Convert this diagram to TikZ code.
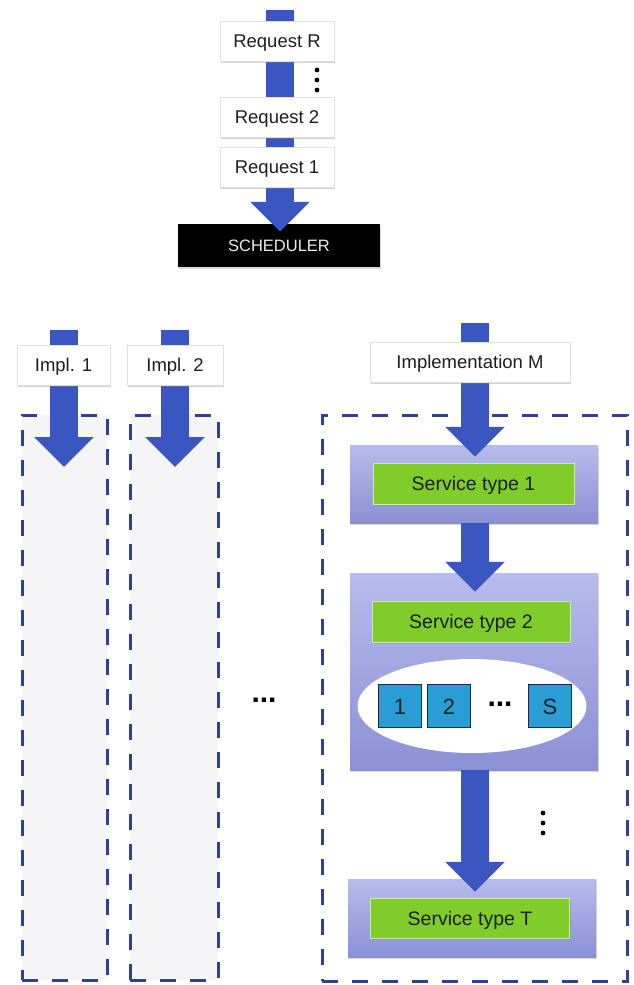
\documentclass[tikz,border=0pt]{standalone}
\usepackage{fontspec}
\setmainfont{Liberation Sans}
\usetikzlibrary{arrows.meta,shadows,shapes.geometric}

\definecolor{arrowblue}{RGB}{58,86,192}
\definecolor{frameblue}{RGB}{48,64,146}
\definecolor{lavtop}{RGB}{184,187,236}
\definecolor{lavbot}{RGB}{138,144,212}
\definecolor{svcgreen}{RGB}{128,204,42}
\definecolor{svcedge}{RGB}{205,236,170}
\definecolor{slotblue}{RGB}{42,156,214}
\definecolor{slotedge}{RGB}{22,40,70}
\definecolor{labeltext}{RGB}{30,30,30}
\definecolor{lanefill}{RGB}{245,245,247}

\tikzset{
  labelbox/.style={draw=black!12, fill=white, text=labeltext,
    font=\fontsize{18.5}{21}\selectfont, inner sep=0pt,
    text height=13pt, text depth=0pt,
    drop shadow={opacity=0.35, shadow xshift=1pt, shadow yshift=-2pt}},
  schedbox/.style={fill=black, text=black!8, inner sep=0pt,
    font=\fontsize{16.5}{19}\selectfont, text height=12pt, text depth=0pt,
    drop shadow={opacity=0.3, shadow xshift=1pt, shadow yshift=-2pt}},
  lane/.style={draw=frameblue, line width=3pt, dash pattern=on 16pt off 14pt,
    inner sep=0pt},
  container/.style={top color=lavtop, bottom color=lavbot, inner sep=0pt,
    drop shadow={opacity=0.3, shadow xshift=1pt, shadow yshift=-2pt}},
  svcbox/.style={fill=svcgreen, draw=svcedge, line width=1pt, inner sep=0pt,
    text=labeltext, font=\fontsize{19.5}{22}\selectfont,
    text height=14pt, text depth=0pt,
    drop shadow={opacity=0.35, shadow xshift=1pt, shadow yshift=-2pt}},
  slot/.style={fill=slotblue, draw=slotedge, line width=1.3pt, inner sep=0pt,
    minimum size=43pt, text=labeltext, font=\fontsize{22}{24}\selectfont,
    text height=16pt, text depth=0pt},
  flow/.style={draw=arrowblue, line width=28pt,
    -{Triangle[width=58pt,length=30pt]}},
  dotdot/.style={font=\fontsize{30}{30}\selectfont\bfseries, inner sep=0pt}
}

\begin{document}
\begin{tikzpicture}[x=1pt,y=-1pt]
\useasboundingbox (0,0) rectangle (634,985);

% ---- request queue feeding the scheduler ----
\node[schedbox, minimum width=202pt, minimum height=43pt] (sch) at (279,245.5) {SCHEDULER};
\coordinate (rtop) at (280,10);
\draw[flow] (rtop) -- ([yshift=-8pt]sch.north -| rtop);
\node[labelbox, minimum width=114pt, minimum height=40pt] (rR) at (277,41) {Request R};
\node[labelbox, minimum width=114pt, minimum height=40pt] (r2) at (277,117) {Request 2};
\node[labelbox, minimum width=114pt, minimum height=40pt] (r1) at (277,167) {Request 1};
\foreach \yy in {70,80,90} \fill (317,\yy) circle (2.4pt);

% ---- implementation lanes ----
\node[lane, fill=lanefill, minimum width=85pt, minimum height=565pt] (lane1) at (64.5,697.5) {};
\node[lane, fill=lanefill, minimum width=88pt, minimum height=565pt] (lane2) at (174,697.5) {};
\node[lane, fill=white, minimum width=305pt, minimum height=566pt] (laneM) at (474.5,698) {};

\coordinate (i1top) at (64,330);
\coordinate (i2top) at (175,330);
\coordinate (iMtop) at (475,323);
\draw[flow] (i1top) -- (64,467);
\draw[flow] (i2top) -- (175,467);

\node[labelbox, minimum width=93pt, minimum height=40pt] (impl1) at (63.5,365) {Impl. 1};
\node[labelbox, minimum width=96pt, minimum height=40pt] (impl2) at (175,365) {Impl. 2};

\node[dotdot] (gap) at (264,700) {...};

% ---- service chain of implementation M ----
\node[container, minimum width=248pt, minimum height=78pt] (c1) at (474,484) {};
\node[container, minimum width=248pt, minimum height=197pt] (c2) at (474,671.5) {};
\node[container, minimum width=248pt, minimum height=78pt] (cT) at (472,918) {};

\draw[flow] (iMtop) -- ([yshift=-12pt]c1.north -| iMtop);
\draw[flow] (c1.south -| iMtop) -- ([yshift=-19pt]c2.north -| iMtop);
\draw[flow] (c2.south -| iMtop) -- ([yshift=-13pt]cT.north -| iMtop);

\node[labelbox, minimum width=200pt, minimum height=40pt] (implM) at (470,362) {Implementation M};

\node[svcbox, minimum width=201pt, minimum height=41pt] (s1) at (473.5,483.5) {Service type 1};
\node[svcbox, minimum width=198pt, minimum height=41pt] (s2) at (471,621.5) {Service type 2};
\node[svcbox, minimum width=199pt, minimum height=40pt] (sT) at (470,918) {Service type T};

\node[ellipse, fill=white, minimum width=229pt, minimum height=94pt, inner sep=0pt] (pool) at (472,706) {};
\node[slot] (q1) at (400,706) {1};
\node[slot] (q2) at (449,706) {2};
\node[dotdot] (qdots) at (500,704) {...};
\node[slot] (qS) at (550,706) {S};

\foreach \yy in {813,823,833} \fill (543,\yy) circle (2.4pt);
\end{tikzpicture}
\end{document}
